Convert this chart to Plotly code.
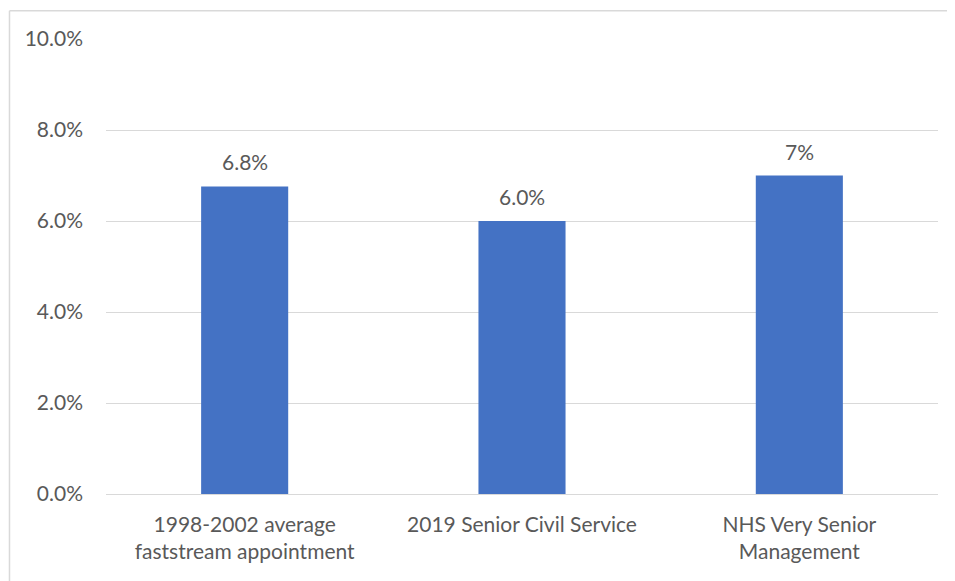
import plotly.graph_objects as go

categories = ["1998-2002 average<br>faststream appointment",
              "2019 Senior Civil Service",
              "NHS Very Senior<br>Management"]
values = [0.0676, 0.060, 0.070]
value_labels = ["6.8%", "6.0%", "7%"]
tick_vals = [0, 0.02, 0.04, 0.06, 0.08, 0.10]
tick_text = ["0.0%", "2.0%", "4.0%", "6.0%", "8.0%", "10.0%"]

TXT = "#595959"
FS = 21
BORDER = dict(color="#d9d9d9", width=1.5)
fig = go.Figure(go.Bar(
    x=categories, y=values,
    marker=dict(color="#4472C4", line=dict(width=0)),
    hoverinfo="skip",
))
for c, v, t in zip(categories, values, value_labels):
    fig.add_annotation(x=c, y=v, text=t, showarrow=False, yanchor="bottom",
                       yshift=10, font=dict(size=FS, color=TXT))
fig.update_layout(
    width=955, height=581, margin=dict(l=98, r=25, t=31, b=95),
    paper_bgcolor="white", plot_bgcolor="white",
    font=dict(family="Lato, Open Sans, sans-serif", size=FS, color=TXT),
    bargap=0.686, showlegend=False,
    xaxis=dict(showline=False, ticks="", ticklabelstandoff=16,
               tickfont=dict(size=FS, color=TXT)),
    yaxis=dict(range=[0, 0.10], tickvals=tick_vals, ticktext=tick_text,
               showgrid=True, gridcolor="#d9d9d9", gridwidth=1.3, zeroline=True,
               zerolinecolor="#d9d9d9", zerolinewidth=1.3, ticks="", ticklabelstandoff=22,
               tickfont=dict(size=FS, color=TXT)),
    shapes=[
        dict(type="line", xref="paper", yref="paper", x0=-0.116, x1=1.2,
             y0=1.062, y1=1.062, line=BORDER, layer="below"),
        dict(type="line", xref="paper", yref="paper", x0=-0.116, x1=-0.116,
             y0=-0.3, y1=1.062, line=BORDER, layer="below"),
    ],
)
fig.write_html("out.html")
